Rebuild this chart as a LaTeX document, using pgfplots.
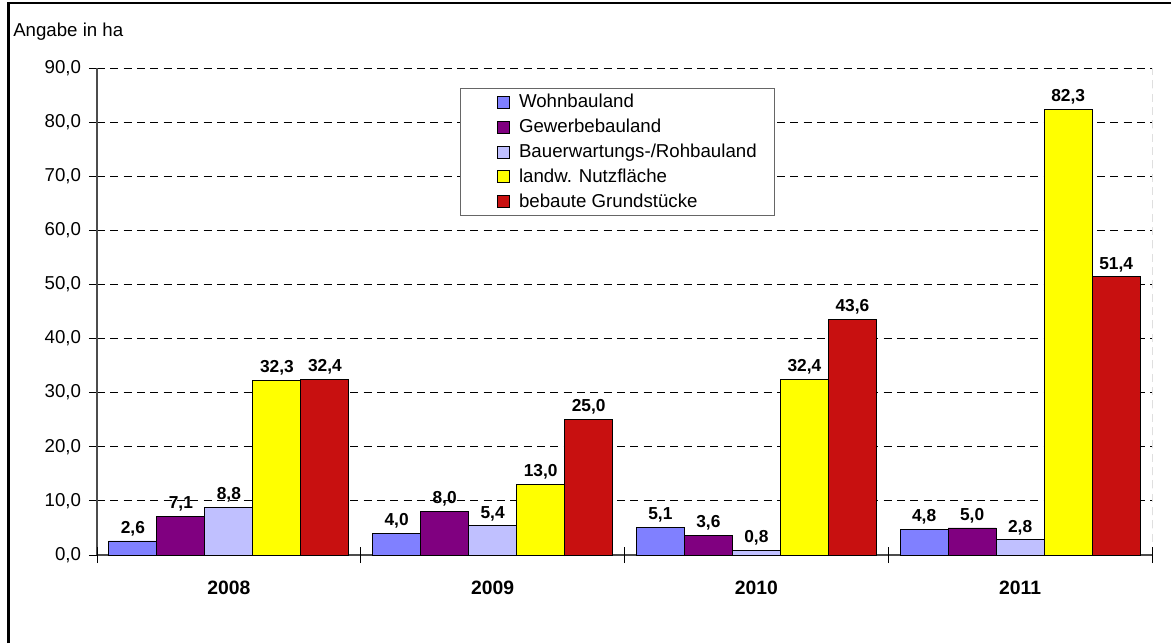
\documentclass[border=0pt]{standalone}
\usepackage{pgfplots}
\pgfplotsset{compat=1.18}
\usepackage{fontspec}
\setmainfont{Liberation Sans}
\definecolor{cWohn}{HTML}{8080FF}
\definecolor{cGew}{HTML}{800080}
\definecolor{cBau}{HTML}{C0C0FF}
\definecolor{cLand}{HTML}{FFFF00}
\definecolor{cBeb}{HTML}{C81010}
\begin{document}
\begin{tikzpicture}
\path[use as bounding box] (-72.75pt,-66pt) rectangle (805.5pt,416.25pt);
\draw[line width=1.8pt] (-66.5pt,-66pt) -- (-66.5pt,414pt) -- (805.5pt,414pt);
\node[anchor=west,font=\fontsize{14}{16}\selectfont,inner sep=0pt] at (-63pt,392.5pt) {Angabe in ha};
\begin{axis}[
  at={(0,0)}, anchor=south west,
  scale only axis,
  width=791.25pt, height=365.25pt,
  xmin=-0.5, xmax=3.5, ymin=0, ymax=90,
  axis x line*=bottom, axis y line*=left,
  axis line style={-, line width=0.8pt, black!70},
  ytick={0,10,...,90},
  ymajorgrids,
  grid style={dashed, black, line width=0.6pt, dash pattern=on 6pt off 4pt},
  tick align=outside,
  major tick length=6pt,
  tick style={black, line width=0.6pt},
  y tick label style={font=\fontsize{14}{16}\selectfont, xshift=-2.5pt},
  /pgf/number format/assume math mode=true,
  yticklabel={\pgfmathprintnumber[fixed,fixed zerofill,precision=1,use comma]{\tick}},
  xtick={0,1,2,3},
  xticklabels={2008,2009,2010,2011},
  x tick label style={font=\bfseries\fontsize{14.5}{16}\selectfont, yshift=-10pt},
  major x tick style={draw=none},
  extra x ticks={-0.5,0.5,1.5,2.5,3.5},
  extra x tick labels={},
  extra x tick style={tick align=center, major tick length=12pt, major x tick style={draw=black, line width=0.6pt}},
  ybar=0pt,
  bar width=0.182,
  nodes near coords={\pgfmathprintnumber[fixed,fixed zerofill,precision=1,use comma]{\pgfplotspointmeta}},
  nodes near coords style={font=\bfseries\fontsize{13}{15}\selectfont, inner sep=2pt, yshift=1.5pt},
  legend style={at={(0.344,0.959)}, anchor=north west, draw=black!60, line width=0.6pt,
    font=\fontsize{14}{16}\selectfont, row sep=3pt, inner xsep=11pt, inner ysep=2.5pt,
    /tikz/every odd column/.append style={column sep=5pt}},
  legend cell align=left,
  legend image code/.code={\path (0pt,0pt); \draw[#1,draw=black,line width=0.5pt] (16.5pt,-4.5pt) rectangle (25.5pt,4.5pt);},
  every axis plot/.append style={draw=black, line width=0.6pt},
]
\addplot[fill=cWohn, bar shift=-0.364] coordinates {(0,2.6) (1,4.0) (2,5.1) (3,4.8)};
\addplot[fill=cGew, bar shift=-0.182] coordinates {(0,7.1) (1,8.0) (2,3.6) (3,5.0)};
\addplot[fill=cBau, bar shift=0] coordinates {(0,8.8) (1,5.4) (2,0.8) (3,2.8)};
\addplot[fill=cLand, bar shift=0.182] coordinates {(0,32.3) (1,13.0) (2,32.4) (3,82.3)};
\addplot[fill=cBeb, bar shift=0.364] coordinates {(0,32.4) (1,25.0) (2,43.6) (3,51.4)};
\legend{Wohnbauland,Gewerbebauland,Bauerwartungs-/Rohbauland,landw. Nutzfläche,bebaute Grundstücke}
\draw[dashed, black, line width=0.6pt, dash pattern=on 6pt off 4pt] (axis cs:3.5,0) -- (axis cs:3.5,90);
\end{axis}
\end{tikzpicture}
\end{document}
